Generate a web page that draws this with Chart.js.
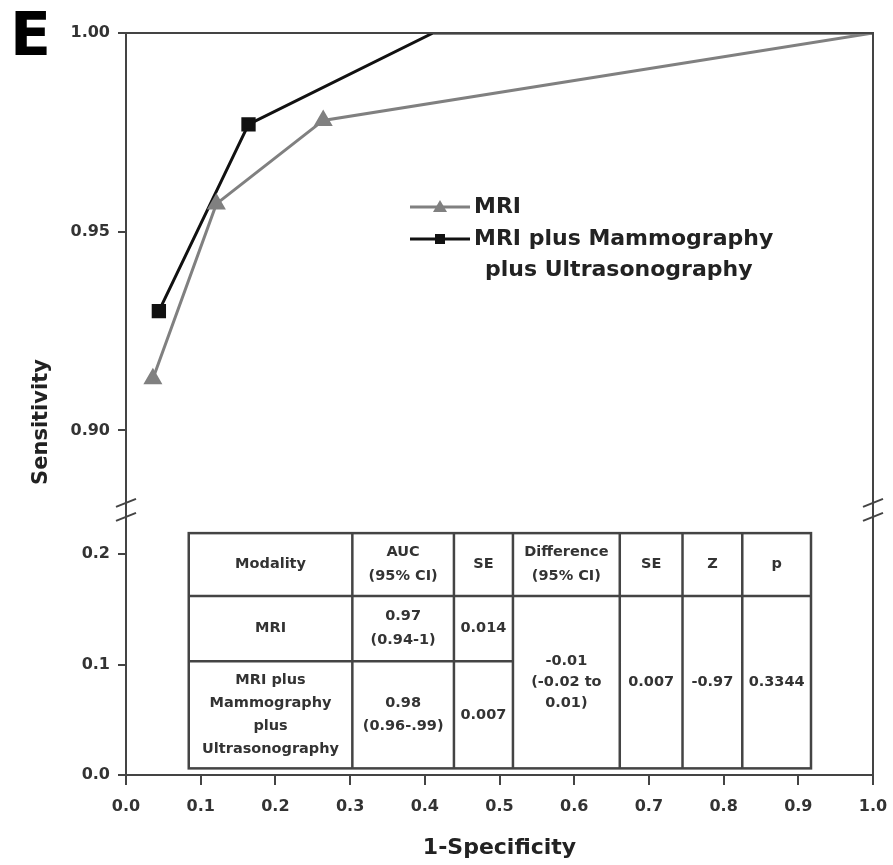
<!DOCTYPE html>
<html lang="en">
<head>
<meta charset="UTF-8">
<title>ROC curves: MRI vs MRI plus Mammography plus Ultrasonography</title>
<script src="https://cdn.jsdelivr.net/npm/chart.js@4"></script>
<style>
  html, body { margin: 0; padding: 0; background: #fff; }
  #wrap { width: 893px; height: 865px; }
</style>
</head>
<body>
<div id="wrap"><canvas id="roc" width="893" height="865"></canvas></div>
<script>
// --- data ---
const xTicks = [0.0, 0.1, 0.2, 0.3, 0.4, 0.5, 0.6, 0.7, 0.8, 0.9, 1.0];
const yTopTicks = [0.90, 0.95, 1.00];
const yBottomTicks = [0.0, 0.1, 0.2];

const mriFpr = [0.036, 0.121, 0.264, 1.0];
const mriSens = [0.913, 0.957, 0.978, 1.0];
const comboFpr = [0.044, 0.164, 0.411, 1.0];
const comboSens = [0.930, 0.977, 1.0, 1.0];

const legendLines = [['MRI'], ['MRI plus Mammography', 'plus Ultrasonography']];

const tableHeader = ['Modality', 'AUC\n(95% CI)', 'SE', 'Difference\n(95% CI)', 'SE', 'Z', 'p'];
const tableMRI = ['MRI', '0.97\n(0.94-1)', '0.014'];
const tableCombo = ['MRI plus\nMammography\nplus\nUltrasonography', '0.98\n(0.96-.99)', '0.007'];
const tableComparison = ['-0.01\n(-0.02 to\n0.01)', '0.007', '-0.97', '0.3344'];

// table grid, in axis units (x = 1-specificity, y = lower sensitivity axis)
const tableColEdges = [0.084, 0.303, 0.439, 0.518, 0.661, 0.745, 0.825, 0.917];
const tableRowEdges = [0.219, 0.162, 0.103, 0.006];

const FONT = '"DejaVu Sans", sans-serif';
const AXIS = '#444';
const GREY = '#808080';

const toPoints = (xs, ys) => xs.map((x, i) => ({ x: x, y: ys[i] }));

function drawMultiline(ctx, text, x, yc, lh) {
  const lines = text.split('\n');
  const y0 = yc - (lines.length - 1) * lh / 2;
  lines.forEach((l, i) => ctx.fillText(l, x, y0 + i * lh));
}

const decorations = {
  id: 'decorations',
  afterDraw(chart) {
    const ctx = chart.ctx;
    const a = chart.chartArea;
    const xs = chart.scales.x;
    const yb = chart.scales.yLow;
    ctx.save();

    // frame: top and right
    ctx.strokeStyle = AXIS;
    ctx.lineWidth = 2;
    ctx.beginPath();
    ctx.moveTo(a.left, a.top);
    ctx.lineTo(a.right, a.top);
    ctx.lineTo(a.right, a.bottom);
    ctx.stroke();

    // axis breaks
    const by = yb.top;
    [a.left, a.right].forEach(ax => {
      [-7, 7].forEach(d => {
        ctx.beginPath();
        ctx.moveTo(ax - 10, by + d + 4);
        ctx.lineTo(ax + 10, by + d - 4);
        ctx.stroke();
      });
    });

    // panel letter
    ctx.fillStyle = '#000';
    ctx.font = 'bold 60px ' + FONT;
    ctx.textAlign = 'left';
    ctx.textBaseline = 'alphabetic';
    ctx.fillText('E', 10, 55);

    // y title spanning both stacked axes
    ctx.save();
    ctx.translate(42, 422);
    ctx.rotate(-Math.PI / 2);
    ctx.font = 'bold 21px ' + FONT;
    ctx.fillStyle = '#222';
    ctx.textAlign = 'center';
    ctx.textBaseline = 'middle';
    ctx.fillText('Sensitivity', 0, 0);
    ctx.restore();

    // legend
    const sets = chart.data.datasets;
    const lx = 410, ly = [207, 239];
    sets.forEach((ds, i) => {
      ctx.strokeStyle = ds.borderColor;
      ctx.lineWidth = 3;
      ctx.beginPath();
      ctx.moveTo(lx, ly[i]);
      ctx.lineTo(lx + 60, ly[i]);
      ctx.stroke();
      ctx.fillStyle = ds.pointBackgroundColor;
      ctx.beginPath();
      if (ds.pointStyle === 'triangle') {
        ctx.moveTo(lx + 30, ly[i] - 7);
        ctx.lineTo(lx + 37, ly[i] + 5);
        ctx.lineTo(lx + 23, ly[i] + 5);
        ctx.closePath();
      } else {
        ctx.rect(lx + 25, ly[i] - 5, 10, 10);
      }
      ctx.fill();
      ctx.fillStyle = '#222';
      ctx.font = 'bold 22px ' + FONT;
      ctx.textAlign = 'left';
      ctx.textBaseline = 'middle';
      legendLines[i].forEach((t, k) => {
        ctx.fillText(t, lx + 64 + (k > 0 ? 11 : 0), ly[i] + k * 31);
      });
    });

    // table
    const cx = tableColEdges.map(v => xs.getPixelForValue(v));
    const ry = tableRowEdges.map(v => yb.getPixelForValue(v));
    ctx.strokeStyle = AXIS;
    ctx.lineWidth = 2.5;
    ctx.strokeRect(cx[0], ry[0], cx[7] - cx[0], ry[3] - ry[0]);
    ctx.beginPath();
    for (let c = 1; c < 7; c++) {
      ctx.moveTo(cx[c], ry[0]);
      ctx.lineTo(cx[c], ry[3]);
    }
    ctx.moveTo(cx[0], ry[1]);
    ctx.lineTo(cx[7], ry[1]);
    ctx.moveTo(cx[0], ry[2]);
    ctx.lineTo(cx[3], ry[2]);
    ctx.stroke();

    ctx.fillStyle = '#333';
    ctx.font = 'bold 14.5px ' + FONT;
    ctx.textAlign = 'center';
    ctx.textBaseline = 'middle';
    const mid = c => (cx[c] + cx[c + 1]) / 2;
    tableHeader.forEach((t, c) => drawMultiline(ctx, t, mid(c), (ry[0] + ry[1]) / 2, 24));
    tableMRI.forEach((t, c) => drawMultiline(ctx, t, mid(c), (ry[1] + ry[2]) / 2, 24));
    tableCombo.forEach((t, c) => drawMultiline(ctx, t, mid(c), (ry[2] + ry[3]) / 2, 23));
    tableComparison.forEach((t, c) => drawMultiline(ctx, t, mid(c + 3), (ry[1] + ry[3]) / 2, 21));

    ctx.restore();
  }
};

const tickFont = { family: FONT, size: 16, weight: 'bold' };

new Chart(document.getElementById('roc'), {
  type: 'line',
  data: {
    datasets: [
      {
        label: 'MRI',
        data: toPoints(mriFpr, mriSens),
        yAxisID: 'yHigh',
        borderColor: GREY,
        backgroundColor: GREY,
        pointBackgroundColor: GREY,
        pointBorderColor: GREY,
        borderWidth: 3,
        pointStyle: 'triangle',
        pointRadius: mriSens.map(v => v >= 1 ? 0 : 8),
        tension: 0
      },
      {
        label: 'MRI plus Mammography plus Ultrasonography',
        data: toPoints(comboFpr, comboSens),
        yAxisID: 'yHigh',
        borderColor: '#111',
        backgroundColor: '#111',
        pointBackgroundColor: '#111',
        pointBorderColor: '#111',
        borderWidth: 3,
        pointStyle: 'rect',
        pointRadius: comboSens.map(v => v >= 1 ? 0 : 8),
        tension: 0
      }
    ]
  },
  options: {
    responsive: false,
    animation: false,
    layout: { padding: { top: 33, right: 20, left: 0, bottom: 0 } },
    plugins: { legend: { display: false }, tooltip: { enabled: false } },
    scales: {
      x: {
        type: 'linear',
        min: 0,
        max: 1,
        afterBuildTicks: s => { s.ticks = xTicks.map(v => ({ value: v })); },
        // fixed box: keep the plot edges where the figure has them
        afterFit: s => { s.height = 90; s.paddingLeft = 0; s.paddingRight = 0; },
        ticks: { font: tickFont, color: '#333', padding: 12, maxRotation: 0, autoSkip: false, callback: v => v.toFixed(1) },
        grid: { drawOnChartArea: false, tickLength: 10, color: AXIS, lineWidth: 2 },
        border: { color: AXIS, width: 2 },
        title: { display: true, text: '1-Specificity', color: '#222', font: { family: FONT, size: 22, weight: 'bold' }, padding: { top: 0, bottom: 4 } }
      },
      // lower segment of the broken sensitivity axis (holds the table)
      yLow: {
        type: 'linear',
        position: 'left',
        stack: 'sens',
        stackWeight: 264,
        min: 0,
        max: 0.24,
        afterBuildTicks: s => { s.ticks = yBottomTicks.map(v => ({ value: v })); },
        afterFit: s => { s.width = 126; },
        ticks: { font: tickFont, color: '#333', padding: 8, callback: v => v.toFixed(1) },
        grid: { drawOnChartArea: false, tickLength: 8, color: AXIS, lineWidth: 2 },
        border: { color: AXIS, width: 2 }
      },
      // upper segment, where the ROC curves live
      yHigh: {
        type: 'linear',
        position: 'left',
        stack: 'sens',
        stackWeight: 475,
        min: 0.88,
        max: 1.0,
        afterBuildTicks: s => { s.ticks = yTopTicks.map(v => ({ value: v })); },
        afterFit: s => { s.width = 126; },
        ticks: { font: tickFont, color: '#333', padding: 8, callback: v => v.toFixed(2) },
        grid: { drawOnChartArea: false, tickLength: 8, color: AXIS, lineWidth: 2 },
        border: { color: AXIS, width: 2 }
      }
    }
  },
  plugins: [decorations]
});
</script>
</body>
</html>
